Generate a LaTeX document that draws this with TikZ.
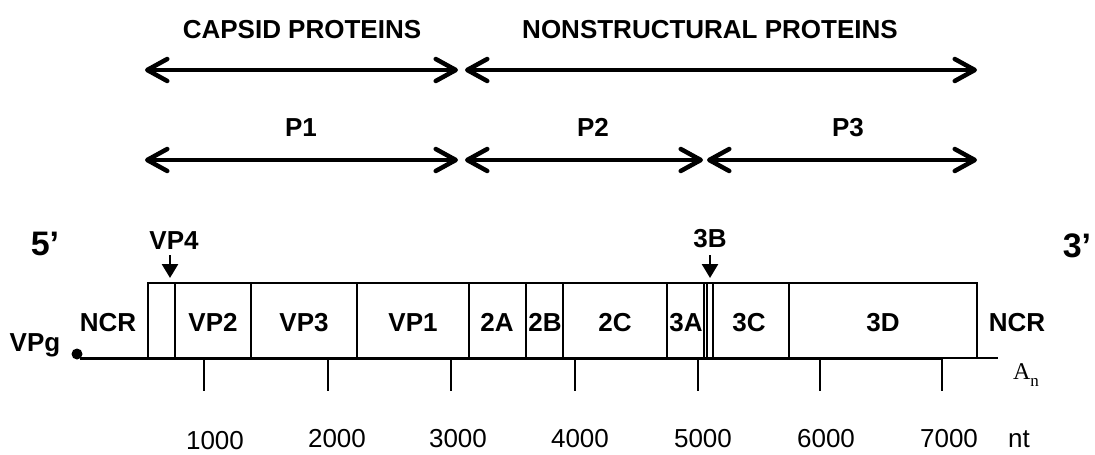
\documentclass[tikz,border=0pt]{standalone}
\usepackage{fontspec}
\setmainfont{Liberation Sans}
\newfontfamily\timesfont{Liberation Serif}
\usetikzlibrary{arrows.meta}
\begin{document}
\begin{tikzpicture}[x=1pt,y=-1pt,
  lbl/.style={font=\fontsize{26}{30}\selectfont\bfseries, inner sep=0pt, anchor=base},
  big/.style={font=\fontsize{34}{38}\selectfont\bfseries, inner sep=0pt, anchor=base},
  num/.style={font=\fontsize{26}{28}\selectfont, inner sep=0pt, anchor=base},
  span/.style={line width=4.5pt, line cap=round,
    {Straight Barb[length=20pt,width=22pt,line cap=round,line join=round]}-{Straight Barb[length=20pt,width=22pt,line cap=round,line join=round]}},
  ptr/.style={line width=2.6pt, -{Triangle[length=14pt,width=16pt]}},
  seg/.style={line width=1.3pt},
  tick/.style={line width=1.3pt}]
\useasboundingbox (0,0) rectangle (1095,455);

% top labels
\node[lbl] (capsid) at (302,38) {CAPSID PROTEINS};
\node[lbl] (nonstr) at (710,38) {NONSTRUCTURAL PROTEINS};
\node[lbl] (p1) at (301,136) {P1};
\node[lbl] (p2) at (593,136) {P2};
\node[lbl] (p3) at (848,136) {P3};

% span arrows
\coordinate (c1l) at (145,70);  \coordinate (c1r) at (458,70);
\coordinate (c2l) at (465,70);  \coordinate (c2r) at (977,70);
\coordinate (p1l) at (145,160); \coordinate (p1r) at (458,160);
\coordinate (p2l) at (465,160); \coordinate (p2r) at (703,160);
\coordinate (p3l) at (707,160); \coordinate (p3r) at (977,160);
\draw[span] (c1l) -- (c1r);
\draw[span] (c2l) -- (c2r);
\draw[span] (p1l) -- (p1r);
\draw[span] (p2l) -- (p2r);
\draw[span] (p3l) -- (p3r);

% ends
\node[big] (five) at (45,255) {5’};
\node[big] (three) at (1077,257) {3’};
\node[lbl] (vp4) at (174,249) {VP4};
\node[lbl] (b3) at (710,247) {3B};
\coordinate (vp4t) at (170,255); \coordinate (vp4b) at (170,278);
\coordinate (b3t) at (710,255);  \coordinate (b3b) at (710,278);
\draw[ptr] (vp4t) -- (vp4b);
\draw[ptr] (b3t) -- (b3b);

% genome box
\draw[seg] (148,358) -- (148,283) -- (977,283) -- (977,358);
\foreach \xx in {175,251,357,469,526,563,667,704,707,713,789}
  \draw[seg] (\xx,283) -- (\xx,358);

% baseline
\draw[line width=3pt] (80,358) -- (942,358);
\draw[line width=1.4pt] (942,358) -- (998,358);
\fill (77,354) circle (5.5pt);

% segment labels
\node[lbl] (ncrl) at (108,331) {NCR};
\node[lbl] (vp2) at (213,331) {VP2};
\node[lbl] (vp3) at (304,331) {VP3};
\node[lbl] (vp1) at (413,331) {VP1};
\node[lbl] (a2) at (497,331) {2A};
\node[lbl] (b2) at (545,331) {2B};
\node[lbl] (c2) at (615,331) {2C};
\node[lbl] (a3) at (686,331) {3A};
\node[lbl] (c3) at (749,331) {3C};
\node[lbl] (d3) at (883,331) {3D};
\node[lbl] (ncrr) at (1017,331) {NCR};
\node[lbl] (vpg) at (35,351) {VPg};

% ticks
\foreach \xx in {204,328,451,575,698,820,942}
  \draw[tick] (\xx,359) -- (\xx,391);

\node[inner sep=0pt, anchor=base, font=\timesfont\fontsize{24}{26}\selectfont] (an) at (1026,379) {A\raisebox{-0.3em}{\fontsize{17}{18}\selectfont n}};

% scale numbers
\node[num] (n1) at (215,449) {1000};
\node[num] (n2) at (337,447) {2000};
\node[num] (n3) at (458,447) {3000};
\node[num] (n4) at (580,447) {4000};
\node[num] (n5) at (703,447) {5000};
\node[num] (n6) at (826,447) {6000};
\node[num] (n7) at (949,447) {7000};
\node[num] (nt) at (1019,447) {nt};
\end{tikzpicture}
\end{document}
